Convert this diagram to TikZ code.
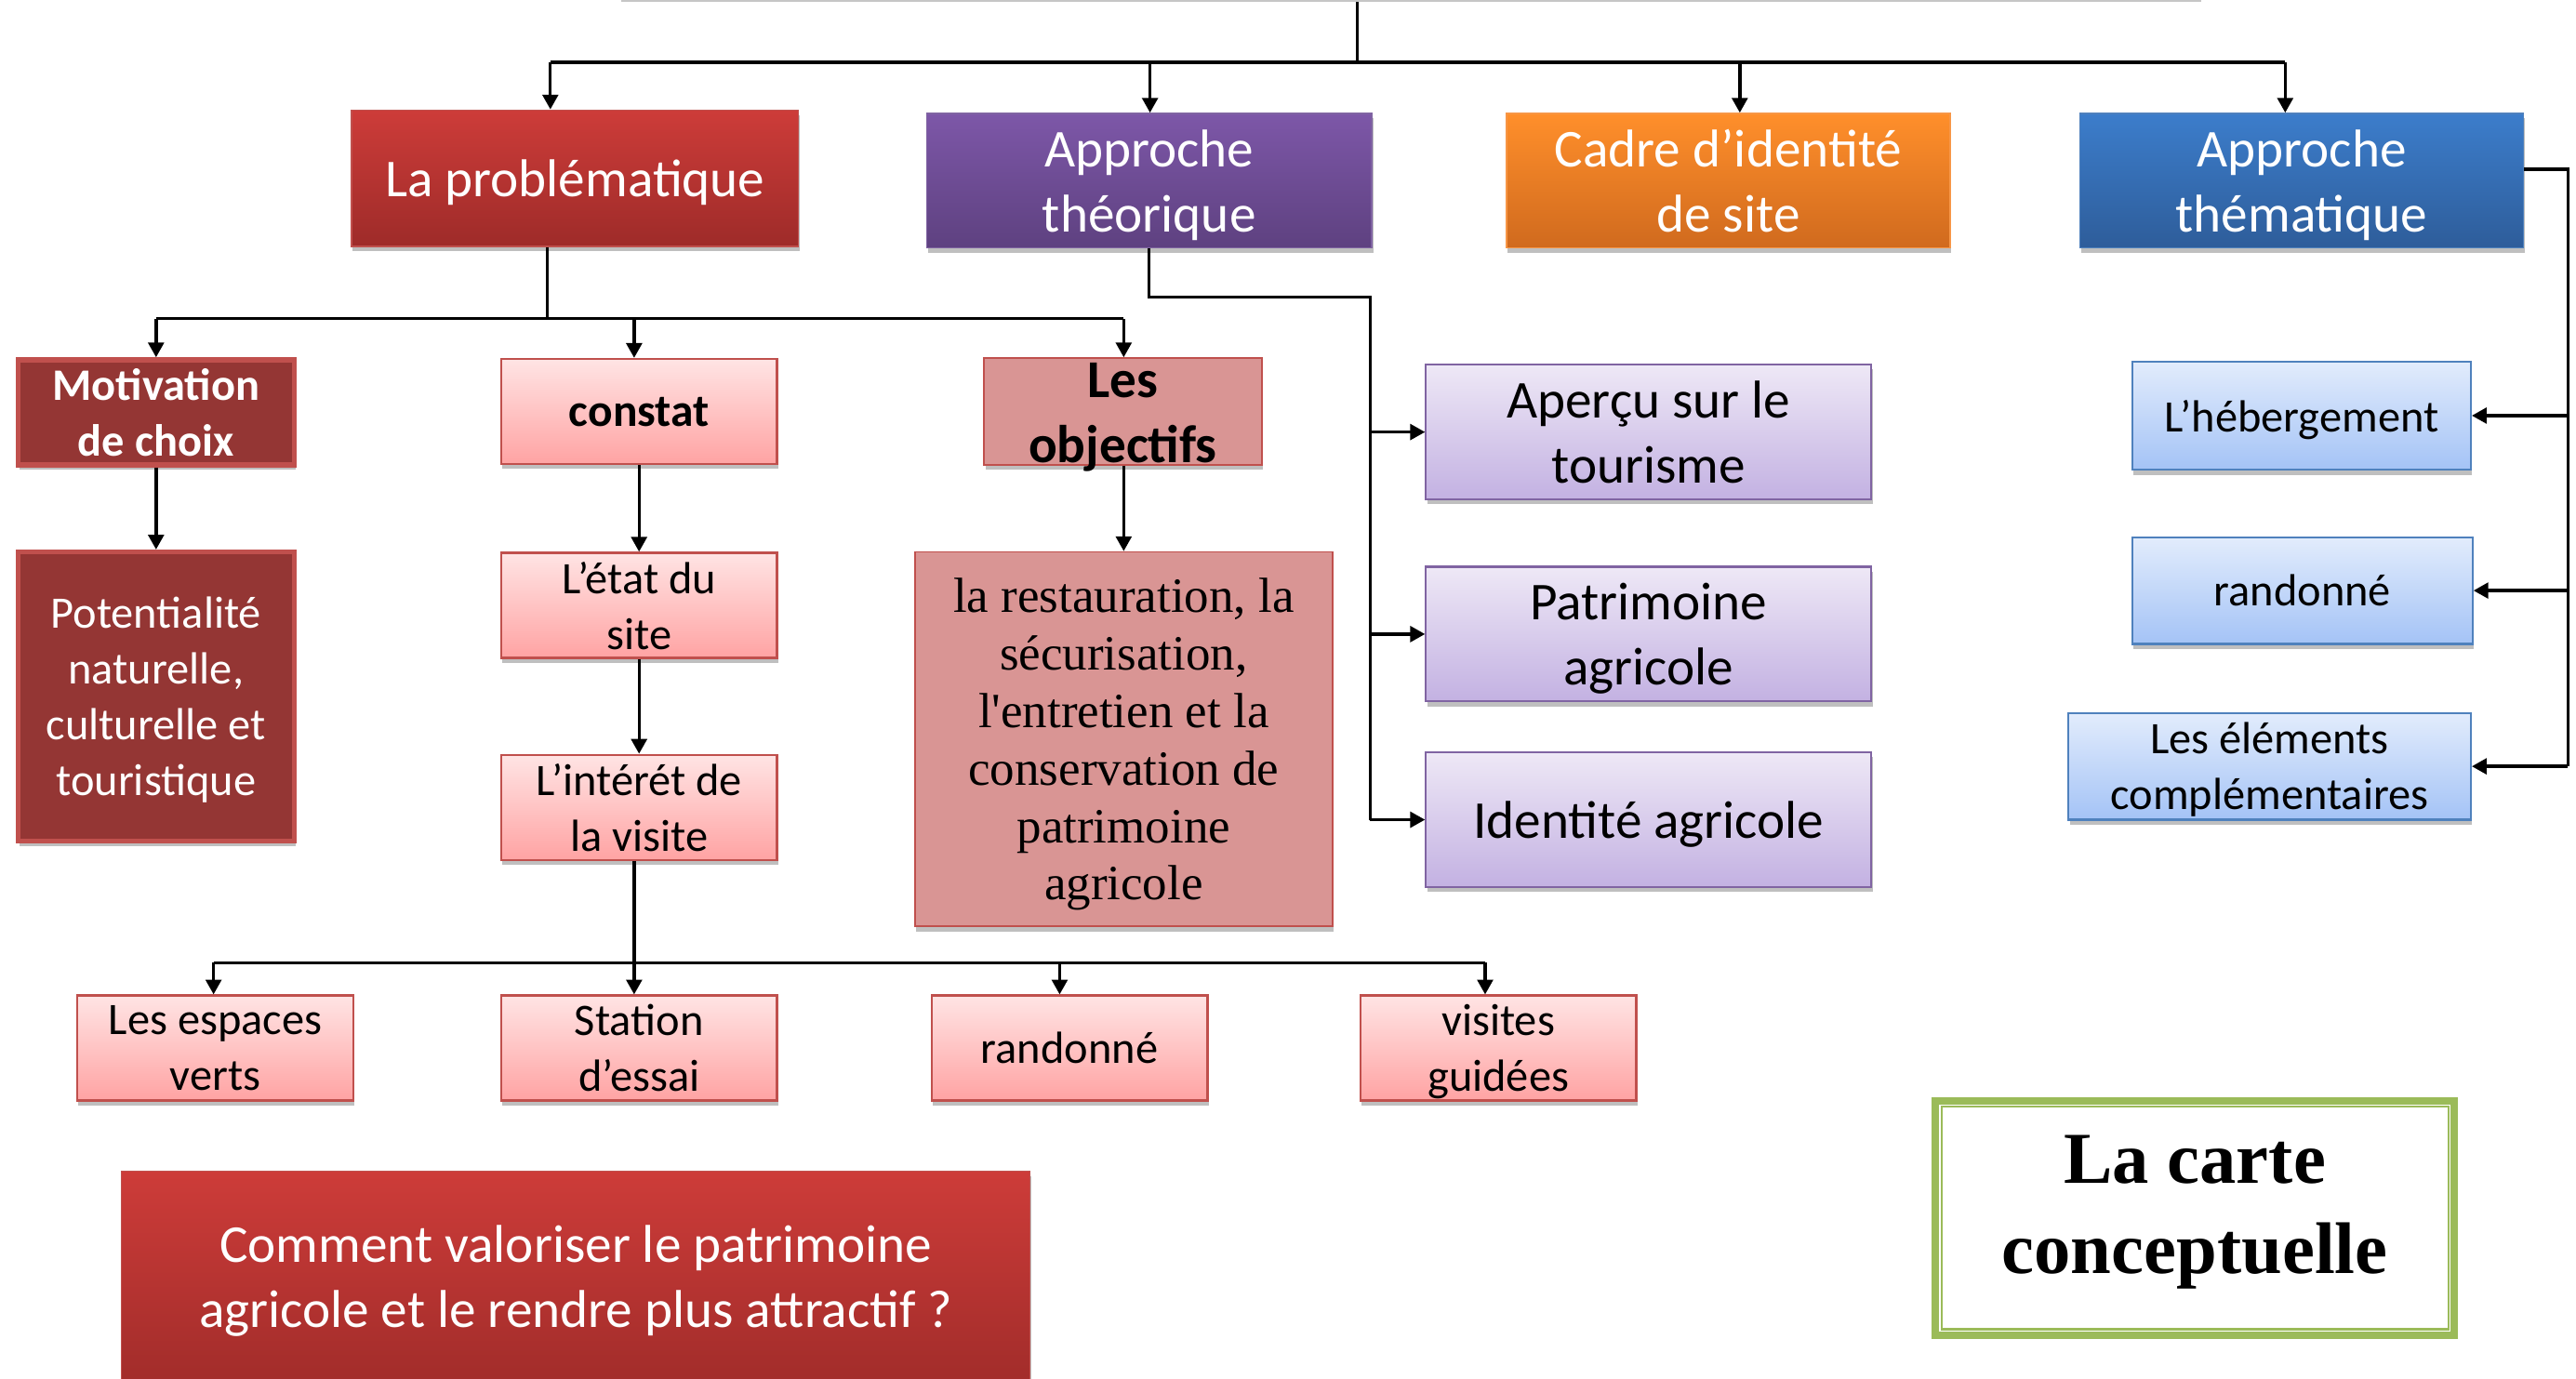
\documentclass[tikz,border=0pt]{standalone}
\usepackage{fontspec}
\setmainfont{Carlito}
\newfontfamily\serifA{Liberation Serif}
\usetikzlibrary{shadows,arrows.meta,calc}
\definecolor{redT}{HTML}{CD3C39}
\definecolor{redB}{HTML}{9E2B29}
\definecolor{redBd}{HTML}{C0504D}
\definecolor{purT}{HTML}{7D57A8}
\definecolor{purB}{HTML}{5E4180}
\definecolor{purBd}{HTML}{8064A2}
\definecolor{oraT}{HTML}{FF8F2B}
\definecolor{oraB}{HTML}{D06A1E}
\definecolor{oraBd}{HTML}{F79646}
\definecolor{bluT}{HTML}{3C7DCB}
\definecolor{bluB}{HTML}{2E5D9A}
\definecolor{bluBd}{HTML}{4F81BD}
\definecolor{pinkT}{HTML}{FFE4E4}
\definecolor{pinkB}{HTML}{FFA3A3}
\definecolor{darkred}{HTML}{943634}
\definecolor{rose}{HTML}{D99594}
\definecolor{lpurT}{HTML}{EEE8F6}
\definecolor{lpurB}{HTML}{C3B1E2}
\definecolor{lbluT}{HTML}{E2ECFC}
\definecolor{lbluB}{HTML}{A4C3F6}
\definecolor{grn}{HTML}{9BBB59}
\begin{document}
\begin{tikzpicture}[x=1pt,y=-1pt,
  base/.style={rectangle, inner sep=0pt, align=center, text depth=0pt,
    drop shadow={shadow xshift=0.8pt, shadow yshift=-3pt, opacity=0.25, fill=black}},
  lbl/.style={align=center, inner sep=0pt, text depth=0pt},
  bigfont/.style={font=\fontsize{32.4}{39.5}\selectfont},
  smallfont/.style={font=\fontsize{27.4}{34}\selectfont},
  bigbox/.style={base, minimum width=271pt, minimum height=82pt, text=white, bigfont, line width=0.8pt},
  redbox/.style={bigbox, top color=redT, bottom color=redB, draw=redBd},
  purbox/.style={bigbox, top color=purT, bottom color=purB, draw=purBd},
  orabox/.style={bigbox, top color=oraT, bottom color=oraB, draw=oraBd},
  blubox/.style={bigbox, top color=bluT, bottom color=bluB, draw=bluBd},
  pinkbox/.style={base, top color=pinkT, bottom color=pinkB, draw=redBd, line width=1.3pt,
    minimum width=168pt, minimum height=64pt, smallfont},
  darkbox/.style={base, fill=darkred, draw=redBd, line width=3pt, text=white,
    minimum width=168pt, smallfont},
  rosebox/.style={base, fill=rose, draw=redBd, line width=1pt},
  lpurbox/.style={base, top color=lpurT, bottom color=lpurB, draw=purBd, line width=1.2pt,
    minimum width=271pt, minimum height=82pt, bigfont},
  lblubox/.style={base, top color=lbluT, bottom color=lbluB, draw=bluBd, line width=1.2pt,
    minimum height=65pt, smallfont},
  conn/.style={line width=1.9pt, draw=black},
  arr/.style={conn, -{Triangle[length=9pt,width=9.5pt]}}
]
\useasboundingbox (0,0) rectangle (1568,839);
\clip (0,0) rectangle (1568,839);

% root (cut off at top)
\node[rectangle, fill=gray!45, minimum width=962pt, minimum height=42pt, inner sep=0pt] (root) at (859,-20) {};

% level 1
\node[redbox, minimum width=272pt, minimum height=83pt] (prob) at (350,108.5) {La problématique};
\node[purbox] (theo) at (699.5,110) {Approche\\théorique};
\node[orabox, minimum width=270pt] (cadre) at (1052,110) {Cadre d’identité\\de site};
\node[blubox, minimum width=270pt] (them) at (1401,110) {Approche\\thématique};

% level 2 left
\node[darkbox, minimum height=64pt, font=\fontsize{27.4}{34}\selectfont\bfseries] (motiv) at (95,251) {Motivation\\de choix};
\node[darkbox, minimum height=176pt] (pot) at (95,424) {Potentialité\\naturelle,\\culturelle et\\touristique};

\node[pinkbox, font=\fontsize{28}{34}\selectfont\bfseries] (constat) at (389,250.5) {constat};
\node[pinkbox] (etat) at (389,368.5) {L’état du\\site};
\node[pinkbox] (interet) at (389,491.5) {L’intérét de\\la visite};

\node[rosebox, minimum width=169pt, minimum height=65pt] (obj) at (683.5,250.5) {};
\node[lbl, font=\fontsize{32.4}{39.5}\selectfont\bfseries] (objlbl) at (683.5,251.5) {Les\\objectifs};
\node[rosebox, minimum width=254pt, minimum height=228pt, font=\serifA\fontsize{30}{35}\selectfont] (objtxt) at (684,450)
  {la restauration, la\\sécurisation,\\l'entretien et la\\conservation de\\patrimoine\\agricole};

% bottom row
\node[pinkbox] (esp) at (131,638) {Les espaces\\verts};
\node[pinkbox] (station) at (389,638) {Station\\d’essai};
\node[pinkbox] (rando) at (651,638) {randonné};
\node[pinkbox] (visites) at (912,638) {visites\\guidées};

% theory branch
\node[lpurbox] (apercu) at (1003.5,263) {Aperçu sur le\\tourisme};
\node[lpurbox] (patri) at (1003.5,386) {Patrimoine\\agricole};
\node[lpurbox] (ident) at (1003.5,499) {Identité agricole};

% thematic branch
\node[lblubox, minimum width=206pt, minimum height=66pt] (heberg) at (1401,253) {L’hébergement};
\node[lblubox, minimum width=207pt] (rando2) at (1401.5,359.5) {randonné};
\node[lblubox, minimum width=245pt] (elem) at (1381.5,466.5) {Les éléments\\complémentaires};

% question
\node[base, top color=redT, bottom color=redB, draw=redBd, line width=0.8pt,
  minimum width=553pt, minimum height=140pt] (comment) at (350.5,783) {};
\node[lbl, text=white, bigfont] (commentlbl) at (350.5,777) {Comment valoriser le patrimoine\\agricole et le rendre plus attractif ?};

% title
\node[rectangle, draw=grn, line width=4.5pt, fill=white, minimum width=316pt, minimum height=143pt, inner sep=0pt] (carte) at (1336,741.5) {};
\draw[grn, line width=1.3pt] ([shift={(6pt,-6pt)}]carte.north west) rectangle ([shift={(-6pt,6pt)}]carte.south east);
\node[lbl, font=\serifA\bfseries\fontsize{44.5}{55}\selectfont] (cartelbl) at (1336,733) {La carte\\conceptuelle};

% connectors: top bus
\coordinate (j0) at (826,38);
\coordinate (b1) at (335,38);
\coordinate (b2) at (700,38);
\coordinate (b3) at (1059,38);
\coordinate (b4) at (1391,38);
\draw[conn] (root.south -| j0) -- (j0);
\draw[conn] (b1) -- (b4);
\draw[arr] (b1) -- (b1 |- prob.north);
\draw[arr] (b2) -- (b2 |- theo.north);
\draw[arr] (b3) -- (b3 |- cadre.north);
\draw[arr] (b4) -- (b4 |- them.north);

% problematique bus
\coordinate (c0) at (333,194);
\coordinate (c1) at (95,194);
\coordinate (c2) at (386,194);
\coordinate (c3) at (684,194);
\draw[conn] (prob.south -| c0) -- (c0);
\draw[conn] (c1) -- (c3);
\draw[arr] (c1) -- (c1 |- motiv.north);
\draw[arr] (c2) -- (c2 |- constat.north);
\draw[arr] (c3) -- (c3 |- obj.north);

\draw[arr] (motiv.south) -- (pot.north);
\draw[arr] (constat.south) -- (etat.north);
\draw[arr] (etat.south) -- (interet.north);
\draw[arr] (obj.south -| c3) -- (objtxt.north -| c3);

% interet bus
\coordinate (d0) at (386,586);
\coordinate (d1) at (130,586);
\coordinate (d2) at (645,586);
\coordinate (d3) at (904,586);
\draw[conn] (interet.south -| d0) -- (d0);
\draw[conn] (d1) -- (d3);
\draw[arr] (d1) -- (d1 |- esp.north);
\draw[arr] (d0) -- (d0 |- station.north);
\draw[arr] (d2) -- (d2 |- rando.north);
\draw[arr] (d3) -- (d3 |- visites.north);

% theory branch
\coordinate (t1) at (834,181);
\draw[conn] (theo.south) |- (t1) -- (t1 |- ident.west);
\draw[arr] (t1 |- apercu.west) -- (apercu.west);
\draw[arr] (t1 |- patri.west) -- (patri.west);
\draw[arr] (t1 |- ident.west) -- (ident.west);

% thematic branch
\coordinate (h1) at (1563,103);
\draw[conn] (them.east |- h1) -- (h1) -- (h1 |- elem.east);
\draw[arr] (h1 |- heberg.east) -- (heberg.east);
\draw[arr] (h1 |- rando2.east) -- (rando2.east);
\draw[arr] (h1 |- elem.east) -- (elem.east);
\end{tikzpicture}
\end{document}
